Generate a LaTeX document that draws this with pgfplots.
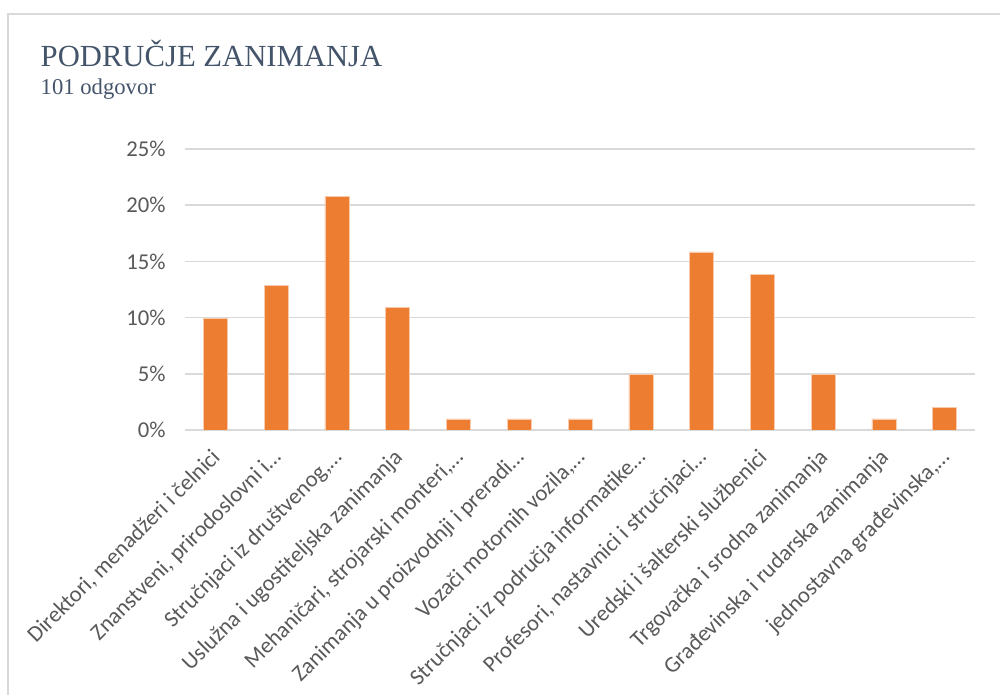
\documentclass[border=0pt]{standalone}
\usepackage{pgfplots}
\pgfplotsset{compat=1.18}
\usepackage{fontspec}
\setmainfont{Liberation Serif}
\newfontfamily\calibri{Carlito}

\definecolor{barorange}{RGB}{237,125,49}
\definecolor{gridgray}{RGB}{217,217,217}
\definecolor{labelgray}{RGB}{89,89,89}
\definecolor{titleblue}{RGB}{68,84,106}

\begin{document}
\begin{tikzpicture}[x=0.75pt,y=0.75pt]
\path[use as bounding box] (0,0) rectangle (1000,695);
\draw[gridgray, line width=1.2pt] (8,0) -- (8,681) -- (1000,681);

\node[anchor=base west, text=titleblue, font=\fontsize{23}{27}\selectfont] at (36,628) {PODRUČJE ZANIMANJA};
\node[anchor=base west, text=titleblue, font=\fontsize{17}{20}\selectfont] at (36,600) {101 odgovor};

\begin{axis}[
    at={(138.75pt,198.75pt)},
    anchor=south west,
    scale only axis,
    width=592.5pt,
    height=210.75pt,
    ymin=0, ymax=25,
    xmin=-0.5, xmax=12.5,
    ytick={0,5,10,15,20,25},
    yticklabel={\pgfmathprintnumber{\tick}\%},
    xtick=data,
    xticklabels={
        {Direktori, menadžeri i čelnici},
        {Znanstveni, prirodoslovni i…},
        {Stručnjaci iz društvenog,…},
        {Uslužna i ugostiteljska zanimanja},
        {Mehaničari, strojarski monteri,…},
        {Zanimanja u proizvodnji i preradi…},
        {Vozači motornih vozila,…},
        {Stručnjaci iz područja informatike…},
        {Profesori, nastavnici i stručnjaci…},
        {Uredski i šalterski službenici},
        {Trgovačka i srodna zanimanja},
        {Građevinska i rudarska zanimanja},
        {jednostavna građevinska,…}
    },
    /pgf/number format/assume math mode=true,
    ticklabel style={font=\calibri\fontsize{17}{20}\selectfont, text=labelgray},
    xticklabel style={xshift=-4pt, yshift=-10pt, rotate=45, anchor=north east, inner sep=2pt},
    yticklabel style={xshift=-11pt},
    major tick length=0pt,
    axis line style={draw=none},
    ymajorgrids,
    grid style={gridgray, line width=1.2pt},
    ybar,
    bar width=18pt,
]
\addplot[fill=barorange, draw=barorange!40, line width=0.4pt] coordinates {
    (0, 9.90)
    (1, 12.87)
    (2, 20.79)
    (3, 10.89)
    (4, 0.99)
    (5, 0.99)
    (6, 0.99)
    (7, 4.95)
    (8, 15.84)
    (9, 13.86)
    (10, 4.95)
    (11, 0.99)
    (12, 1.98)
};
\end{axis}
\end{tikzpicture}
\end{document}
